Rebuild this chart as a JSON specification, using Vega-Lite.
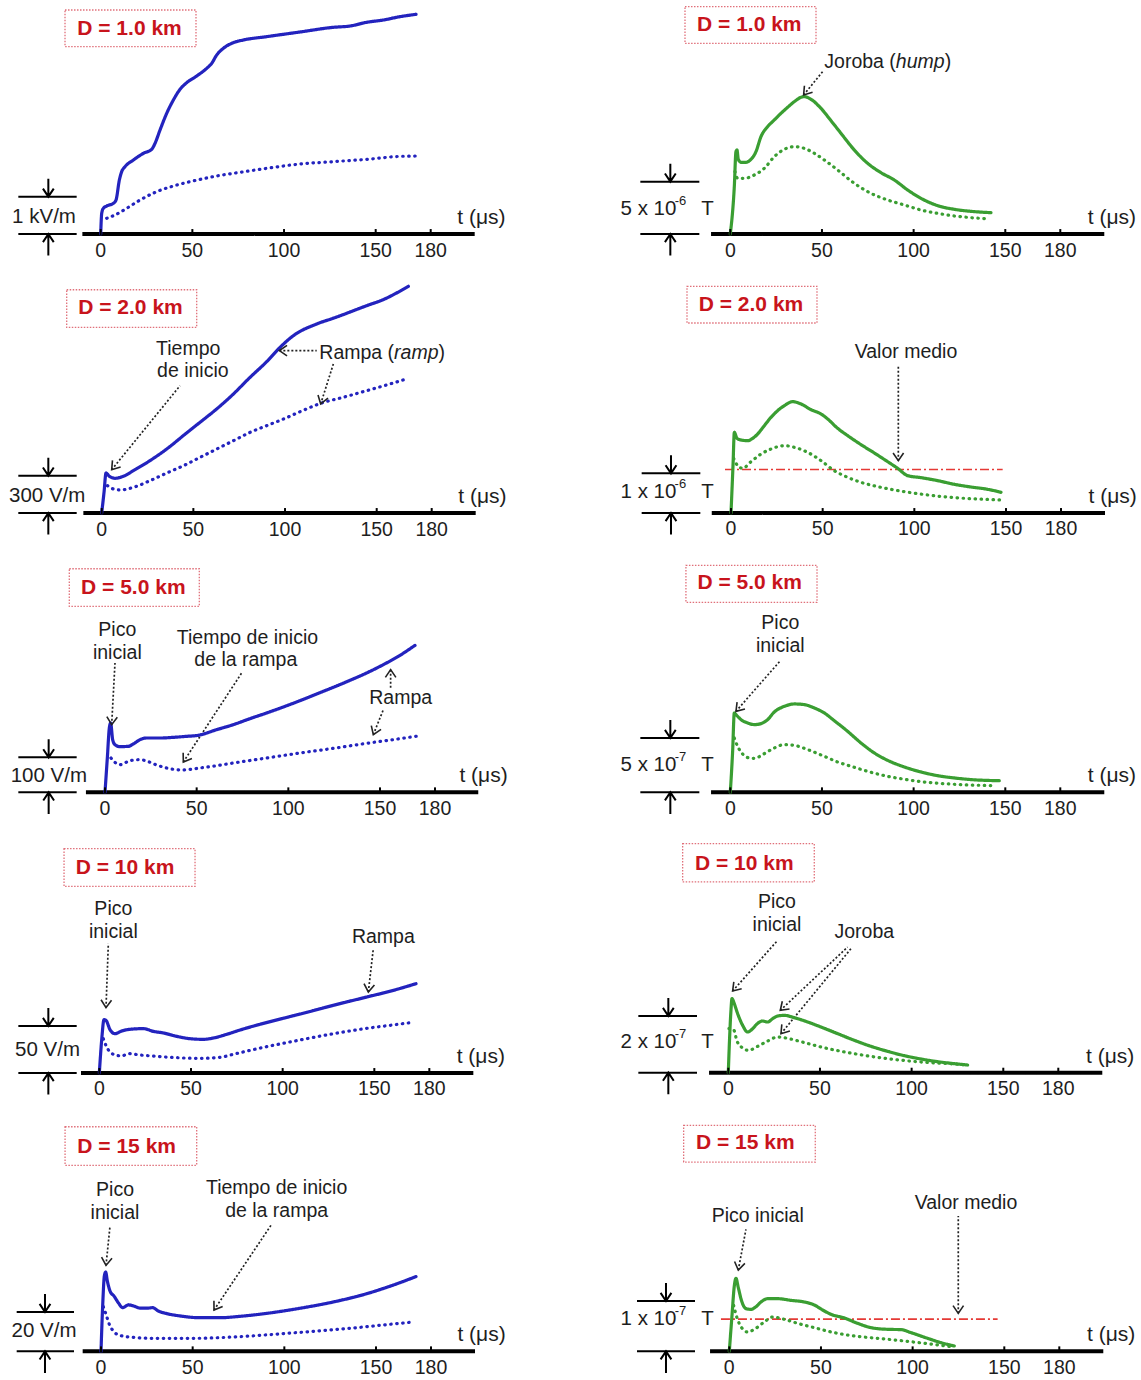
{"$schema":"https://vega.github.io/schema/vega-lite/v6.json","padding":0,"background":"white","spacing":17,
"config":{"view":{"stroke":null},"text":{"font":"Liberation Sans","fontSize":19.5,"color":"#1e1e1e","baseline":"middle","align":"center"}},
"data":{"values":[
{"p":"L1","k":"axis","t":-10,"t2":204,"v":0,"v2":0},
{"p":"L1","k":"bar","t":-44.93,"t2":-13.11,"v":0,"v2":0},
{"p":"L1","k":"bar","t":-44.93,"t2":-13.11,"v":1000,"v2":1000},
{"p":"L1","k":"down","t":-28.56,"v":1000},
{"p":"L1","k":"up","t":-28.56,"v":0},
{"p":"L1","k":"tick","t":0,"v":0,"tx":"0"},{"p":"L1","k":"tick","t":50,"v":0,"tx":"50"},{"p":"L1","k":"tick","t":100,"v":0,"tx":"100"},{"p":"L1","k":"tick","t":150,"v":0,"tx":"150"},{"p":"L1","k":"tick","t":180,"v":0,"tx":"180"},
{"p":"L1","k":"tunit","t":194.5,"v":0,"tx":"t (μs)"},
{"p":"L1","k":"lab","t":-30.93,"v":463.5,"tx":"1 kV/m"},
{"p":"L1","k":"box","t":-19.47,"t2":51.98,"v":5018,"v2":6001},
{"p":"L1","k":"title","t":15.71,"v":5492,"tx":"D = 1.0 km"},
{"p":"L1","k":"curve","s":"solid","t":0,"v":0},{"p":"L1","k":"curve","s":"solid","t":0.55,"v":554},{"p":"L1","k":"curve","s":"solid","t":1.45,"v":688},{"p":"L1","k":"curve","s":"solid","t":3.27,"v":750},{"p":"L1","k":"curve","s":"solid","t":6.91,"v":822},{"p":"L1","k":"curve","s":"solid","t":8.36,"v":911},{"p":"L1","k":"curve","s":"solid","t":10.18,"v":1447},{"p":"L1","k":"curve","s":"solid","t":11.45,"v":1670},{"p":"L1","k":"curve","s":"solid","t":13.27,"v":1804},{"p":"L1","k":"curve","s":"solid","t":17.82,"v":1982},{"p":"L1","k":"curve","s":"solid","t":23.27,"v":2161},{"p":"L1","k":"curve","s":"solid","t":27.82,"v":2268},{"p":"L1","k":"curve","s":"solid","t":29.64,"v":2429},{"p":"L1","k":"curve","s":"solid","t":32.36,"v":2786},{"p":"L1","k":"curve","s":"solid","t":36,"v":3233},{"p":"L1","k":"curve","s":"solid","t":39.64,"v":3590},{"p":"L1","k":"curve","s":"solid","t":43.27,"v":3876},{"p":"L1","k":"curve","s":"solid","t":46.91,"v":4054},{"p":"L1","k":"curve","s":"solid","t":52.36,"v":4233},{"p":"L1","k":"curve","s":"solid","t":57.82,"v":4438},{"p":"L1","k":"curve","s":"solid","t":60.55,"v":4572},{"p":"L1","k":"curve","s":"solid","t":63.27,"v":4795},{"p":"L1","k":"curve","s":"solid","t":66.91,"v":4974},{"p":"L1","k":"curve","s":"solid","t":72.36,"v":5126},{"p":"L1","k":"curve","s":"solid","t":77.82,"v":5197},{"p":"L1","k":"curve","s":"solid","t":90.55,"v":5287},{"p":"L1","k":"curve","s":"solid","t":108.73,"v":5412},{"p":"L1","k":"curve","s":"solid","t":126.91,"v":5537},{"p":"L1","k":"curve","s":"solid","t":136,"v":5572},{"p":"L1","k":"curve","s":"solid","t":145.09,"v":5671},{"p":"L1","k":"curve","s":"solid","t":154.18,"v":5733},{"p":"L1","k":"curve","s":"solid","t":163.27,"v":5822},{"p":"L1","k":"curve","s":"solid","t":172,"v":5885},
{"p":"L1","k":"curve","s":"dot","t":3.27,"v":420},{"p":"L1","k":"curve","s":"dot","t":7.82,"v":509},{"p":"L1","k":"curve","s":"dot","t":14.18,"v":688},{"p":"L1","k":"curve","s":"dot","t":21.45,"v":911},{"p":"L1","k":"curve","s":"dot","t":30.55,"v":1134},{"p":"L1","k":"curve","s":"dot","t":39.64,"v":1286},{"p":"L1","k":"curve","s":"dot","t":48.73,"v":1402},{"p":"L1","k":"curve","s":"dot","t":63.27,"v":1554},{"p":"L1","k":"curve","s":"dot","t":76,"v":1652},{"p":"L1","k":"curve","s":"dot","t":90.55,"v":1759},{"p":"L1","k":"curve","s":"dot","t":108.73,"v":1875},{"p":"L1","k":"curve","s":"dot","t":126.91,"v":1938},{"p":"L1","k":"curve","s":"dot","t":145.09,"v":2000},{"p":"L1","k":"curve","s":"dot","t":163.27,"v":2080},{"p":"L1","k":"curve","s":"dot","t":173.27,"v":2090},

{"p":"R1","k":"axis","t":-10.5,"t2":204,"v":0,"v2":0},
{"p":"R1","k":"bar","t":-49.07,"t2":-16.89,"v":0,"v2":0},
{"p":"R1","k":"bar","t":-49.07,"t2":-16.89,"v":5000,"v2":5000},
{"p":"R1","k":"down","t":-32.71,"v":5000},
{"p":"R1","k":"up","t":-32.71,"v":0},
{"p":"R1","k":"tick","t":0,"v":0,"tx":"0"},{"p":"R1","k":"tick","t":50,"v":0,"tx":"50"},{"p":"R1","k":"tick","t":100,"v":0,"tx":"100"},{"p":"R1","k":"tick","t":150,"v":0,"tx":"150"},{"p":"R1","k":"tick","t":180,"v":0,"tx":"180"},
{"p":"R1","k":"tunit","t":195,"v":0,"tx":"t (μs)"},
{"p":"R1","k":"lab","t":-44.62,"v":2388.5,"tx":"5 x 10"},{"p":"R1","k":"sup","t":-27.2,"v":3152.8,"tx":"-6"},{"p":"R1","k":"lab","t":-12.44,"v":2388.5,"tx":"T"},
{"p":"R1","k":"box","t":-24.71,"t2":46.75,"v":18219,"v2":21716},
{"p":"R1","k":"title","t":10.36,"v":19968,"tx":"D = 1.0 km"},
{"p":"R1","k":"txt","t":70.8,"v":16463,"tx":"Joroba ("},{"p":"R1","k":"ital","t":103.58,"v":16463,"tx":"hump"},{"p":"R1","k":"txt","t":118.69,"v":16463,"tx":")"},
{"p":"R1","k":"arrow","t":40,"v":13281,"t2":50.36,"v2":15511,"ang":39.2},
{"p":"R1","k":"curve","s":"solid","t":0,"v":0},{"p":"R1","k":"curve","s":"solid","t":2.18,"v":4523},{"p":"R1","k":"curve","s":"solid","t":3.09,"v":7867},{"p":"R1","k":"curve","s":"solid","t":3.64,"v":8026},{"p":"R1","k":"curve","s":"solid","t":4.36,"v":7134},{"p":"R1","k":"curve","s":"solid","t":5.82,"v":6848},{"p":"R1","k":"curve","s":"solid","t":8.55,"v":6848},{"p":"R1","k":"curve","s":"solid","t":11.27,"v":7134},{"p":"R1","k":"curve","s":"solid","t":14,"v":7867},{"p":"R1","k":"curve","s":"solid","t":16.73,"v":9300},{"p":"R1","k":"curve","s":"solid","t":20.36,"v":10256},{"p":"R1","k":"curve","s":"solid","t":24,"v":10893},{"p":"R1","k":"curve","s":"solid","t":27.64,"v":11530},{"p":"R1","k":"curve","s":"solid","t":31.27,"v":12103},{"p":"R1","k":"curve","s":"solid","t":34.91,"v":12644},{"p":"R1","k":"curve","s":"solid","t":38.55,"v":13059},{"p":"R1","k":"curve","s":"solid","t":40.36,"v":13122},{"p":"R1","k":"curve","s":"solid","t":44,"v":12867},{"p":"R1","k":"curve","s":"solid","t":49.45,"v":12007},{"p":"R1","k":"curve","s":"solid","t":54.91,"v":10829},{"p":"R1","k":"curve","s":"solid","t":60.36,"v":9619},{"p":"R1","k":"curve","s":"solid","t":67.64,"v":8026},{"p":"R1","k":"curve","s":"solid","t":74.91,"v":6752},{"p":"R1","k":"curve","s":"solid","t":82.18,"v":5860},{"p":"R1","k":"curve","s":"solid","t":89.45,"v":5160},{"p":"R1","k":"curve","s":"solid","t":96.73,"v":4204},{"p":"R1","k":"curve","s":"solid","t":104,"v":3408},{"p":"R1","k":"curve","s":"solid","t":113.09,"v":2707},{"p":"R1","k":"curve","s":"solid","t":122.18,"v":2357},{"p":"R1","k":"curve","s":"solid","t":131.27,"v":2166},{"p":"R1","k":"curve","s":"solid","t":142.18,"v":2038},
{"p":"R1","k":"curve","s":"dot","t":2.55,"v":5956},{"p":"R1","k":"curve","s":"dot","t":4,"v":5319},{"p":"R1","k":"curve","s":"dot","t":7.64,"v":5319},{"p":"R1","k":"curve","s":"dot","t":13.09,"v":5637},{"p":"R1","k":"curve","s":"dot","t":18.55,"v":6274},{"p":"R1","k":"curve","s":"dot","t":24,"v":7389},{"p":"R1","k":"curve","s":"dot","t":29.45,"v":8090},{"p":"R1","k":"curve","s":"dot","t":34.91,"v":8345},{"p":"R1","k":"curve","s":"dot","t":40.36,"v":8185},{"p":"R1","k":"curve","s":"dot","t":45.82,"v":7708},{"p":"R1","k":"curve","s":"dot","t":51.27,"v":7071},{"p":"R1","k":"curve","s":"dot","t":58.55,"v":6116},{"p":"R1","k":"curve","s":"dot","t":67.64,"v":4842},{"p":"R1","k":"curve","s":"dot","t":76.73,"v":3886},{"p":"R1","k":"curve","s":"dot","t":85.82,"v":3249},{"p":"R1","k":"curve","s":"dot","t":94.91,"v":2771},{"p":"R1","k":"curve","s":"dot","t":104,"v":2293},{"p":"R1","k":"curve","s":"dot","t":113.09,"v":1975},{"p":"R1","k":"curve","s":"dot","t":122.18,"v":1720},{"p":"R1","k":"curve","s":"dot","t":131.27,"v":1561},{"p":"R1","k":"curve","s":"dot","t":141.27,"v":1433},

{"p":"L2","k":"axis","t":-10,"t2":204,"v":0,"v2":0},
{"p":"L2","k":"bar","t":-45.48,"t2":-13.64,"v":0,"v2":0},
{"p":"L2","k":"bar","t":-45.48,"t2":-13.64,"v":300,"v2":300},
{"p":"L2","k":"down","t":-29.11,"v":300},
{"p":"L2","k":"up","t":-29.11,"v":0},
{"p":"L2","k":"tick","t":0,"v":0,"tx":"0"},{"p":"L2","k":"tick","t":50,"v":0,"tx":"50"},{"p":"L2","k":"tick","t":100,"v":0,"tx":"100"},{"p":"L2","k":"tick","t":150,"v":0,"tx":"150"},{"p":"L2","k":"tick","t":180,"v":0,"tx":"180"},
{"p":"L2","k":"tunit","t":194.5,"v":0,"tx":"t (μs)"},
{"p":"L2","k":"lab","t":-29.74,"v":139.3,"tx":"300 V/m"},
{"p":"L2","k":"box","t":-19.09,"t2":51.82,"v":1492,"v2":1794},
{"p":"L2","k":"title","t":15.71,"v":1645,"tx":"D = 2.0 km"},
{"p":"L2","k":"txt","t":47.2,"v":1318,"tx":"Tiempo"},{"p":"L2","k":"txt","t":49.7,"v":1144,"tx":"de inicio"},
{"p":"L2","k":"txt","t":139.1,"v":1286,"tx":"Rampa ("},{"p":"L2","k":"ital","t":171.6,"v":1286,"tx":"ramp"},{"p":"L2","k":"txt","t":185.5,"v":1286,"tx":")"},
{"p":"L2","k":"arrow","t":5.45,"v":348,"t2":42.73,"v2":1023,"ang":39.1},
{"p":"L2","k":"arrow","t":96.9,"v":1305,"t2":117.27,"v2":1305,"ang":90},
{"p":"L2","k":"arrow","t":119.45,"v":876,"t2":126.36,"v2":1198,"ang":17.6},
{"p":"L2","k":"curve","s":"solid","t":0,"v":0},{"p":"L2","k":"curve","s":"solid","t":1.27,"v":166},{"p":"L2","k":"curve","s":"solid","t":2.36,"v":321},{"p":"L2","k":"curve","s":"solid","t":4.18,"v":295},{"p":"L2","k":"curve","s":"solid","t":7.27,"v":279},{"p":"L2","k":"curve","s":"solid","t":11.82,"v":295},{"p":"L2","k":"curve","s":"solid","t":17.27,"v":340},{"p":"L2","k":"curve","s":"solid","t":26.36,"v":421},{"p":"L2","k":"curve","s":"solid","t":35.45,"v":514},{"p":"L2","k":"curve","s":"solid","t":44.55,"v":622},{"p":"L2","k":"curve","s":"solid","t":53.64,"v":729},{"p":"L2","k":"curve","s":"solid","t":62.73,"v":836},{"p":"L2","k":"curve","s":"solid","t":71.82,"v":956},{"p":"L2","k":"curve","s":"solid","t":80.91,"v":1090},{"p":"L2","k":"curve","s":"solid","t":90,"v":1216},{"p":"L2","k":"curve","s":"solid","t":97.27,"v":1331},{"p":"L2","k":"curve","s":"solid","t":104.55,"v":1425},{"p":"L2","k":"curve","s":"solid","t":117.27,"v":1519},{"p":"L2","k":"curve","s":"solid","t":126.36,"v":1565},{"p":"L2","k":"curve","s":"solid","t":144.55,"v":1666},{"p":"L2","k":"curve","s":"solid","t":153.64,"v":1715},{"p":"L2","k":"curve","s":"solid","t":167.27,"v":1822},
{"p":"L2","k":"curve","s":"dot","t":3.09,"v":220},{"p":"L2","k":"curve","s":"dot","t":6.36,"v":193},{"p":"L2","k":"curve","s":"dot","t":10,"v":185},{"p":"L2","k":"curve","s":"dot","t":17.27,"v":206},{"p":"L2","k":"curve","s":"dot","t":26.36,"v":260},{"p":"L2","k":"curve","s":"dot","t":35.45,"v":321},{"p":"L2","k":"curve","s":"dot","t":44.55,"v":380},{"p":"L2","k":"curve","s":"dot","t":53.64,"v":447},{"p":"L2","k":"curve","s":"dot","t":62.73,"v":514},{"p":"L2","k":"curve","s":"dot","t":71.82,"v":581},{"p":"L2","k":"curve","s":"dot","t":80.91,"v":648},{"p":"L2","k":"curve","s":"dot","t":90,"v":702},{"p":"L2","k":"curve","s":"dot","t":99.09,"v":755},{"p":"L2","k":"curve","s":"dot","t":108.18,"v":814},{"p":"L2","k":"curve","s":"dot","t":120,"v":884},{"p":"L2","k":"curve","s":"dot","t":131.82,"v":930},{"p":"L2","k":"curve","s":"dot","t":144.55,"v":983},{"p":"L2","k":"curve","s":"dot","t":155.45,"v":1029},{"p":"L2","k":"curve","s":"dot","t":167.27,"v":1082},

{"p":"R2","k":"axis","t":-10.5,"t2":204,"v":0,"v2":0},
{"p":"R2","k":"bar","t":-48.73,"t2":-16.73,"v":0,"v2":0},
{"p":"R2","k":"bar","t":-48.73,"t2":-16.73,"v":1000,"v2":1000},
{"p":"R2","k":"down","t":-32.73,"v":1000},
{"p":"R2","k":"up","t":-32.73,"v":0},
{"p":"R2","k":"tick","t":0,"v":0,"tx":"0"},{"p":"R2","k":"tick","t":50,"v":0,"tx":"50"},{"p":"R2","k":"tick","t":100,"v":0,"tx":"100"},{"p":"R2","k":"tick","t":150,"v":0,"tx":"150"},{"p":"R2","k":"tick","t":180,"v":0,"tx":"180"},
{"p":"R2","k":"tunit","t":195,"v":0,"tx":"t (μs)"},
{"p":"R2","k":"lab","t":-45,"v":521.8,"tx":"1 x 10"},{"p":"R2","k":"sup","t":-27.6,"v":723.5,"tx":"-6"},{"p":"R2","k":"lab","t":-12.82,"v":521.8,"tx":"T"},
{"p":"R2","k":"box","t":-24,"t2":46.9,"v":4790,"v2":5715},
{"p":"R2","k":"title","t":10.9,"v":5244,"tx":"D = 2.0 km"},
{"p":"R2","k":"txt","t":95.45,"v":4050,"tx":"Valor medio"},
{"p":"R2","k":"arrow","t":91.27,"v":1319,"t2":91.27,"v2":3697,"ang":0},
{"p":"R2","k":"mean","t":-3.27,"v":1096,"t2":148.18,"v2":1096},
{"p":"R2","k":"curve","s":"solid","t":0,"v":0},{"p":"R2","k":"curve","s":"solid","t":1.09,"v":1193},{"p":"R2","k":"curve","s":"solid","t":1.82,"v":2034},{"p":"R2","k":"curve","s":"solid","t":3.27,"v":1882},{"p":"R2","k":"curve","s":"solid","t":5.45,"v":1840},{"p":"R2","k":"curve","s":"solid","t":9.09,"v":1823},{"p":"R2","k":"curve","s":"solid","t":11.82,"v":1882},{"p":"R2","k":"curve","s":"solid","t":14.55,"v":1992},{"p":"R2","k":"curve","s":"solid","t":18.18,"v":2202},{"p":"R2","k":"curve","s":"solid","t":21.82,"v":2412},{"p":"R2","k":"curve","s":"solid","t":25.45,"v":2580},{"p":"R2","k":"curve","s":"solid","t":29.09,"v":2706},{"p":"R2","k":"curve","s":"solid","t":33.64,"v":2807},{"p":"R2","k":"curve","s":"solid","t":38.18,"v":2748},{"p":"R2","k":"curve","s":"solid","t":43.64,"v":2605},{"p":"R2","k":"curve","s":"solid","t":49.09,"v":2496},{"p":"R2","k":"curve","s":"solid","t":52.73,"v":2370},{"p":"R2","k":"curve","s":"solid","t":58.18,"v":2134},{"p":"R2","k":"curve","s":"solid","t":63.64,"v":1950},{"p":"R2","k":"curve","s":"solid","t":70.91,"v":1723},{"p":"R2","k":"curve","s":"solid","t":78.18,"v":1513},{"p":"R2","k":"curve","s":"solid","t":85.45,"v":1294},{"p":"R2","k":"curve","s":"solid","t":90.91,"v":1126},{"p":"R2","k":"curve","s":"solid","t":96.36,"v":941},{"p":"R2","k":"curve","s":"solid","t":103.64,"v":891},{"p":"R2","k":"curve","s":"solid","t":112.73,"v":815},{"p":"R2","k":"curve","s":"solid","t":121.82,"v":723},{"p":"R2","k":"curve","s":"solid","t":130.91,"v":655},{"p":"R2","k":"curve","s":"solid","t":140,"v":597},{"p":"R2","k":"curve","s":"solid","t":147.27,"v":521},
{"p":"R2","k":"curve","s":"dot","t":1.45,"v":1378},{"p":"R2","k":"curve","s":"dot","t":3.64,"v":1193},{"p":"R2","k":"curve","s":"dot","t":6.36,"v":1126},{"p":"R2","k":"curve","s":"dot","t":10.91,"v":1294},{"p":"R2","k":"curve","s":"dot","t":16.36,"v":1487},{"p":"R2","k":"curve","s":"dot","t":21.82,"v":1613},{"p":"R2","k":"curve","s":"dot","t":29.09,"v":1697},{"p":"R2","k":"curve","s":"dot","t":34.55,"v":1655},{"p":"R2","k":"curve","s":"dot","t":41.82,"v":1529},{"p":"R2","k":"curve","s":"dot","t":49.09,"v":1319},{"p":"R2","k":"curve","s":"dot","t":56.36,"v":1067},{"p":"R2","k":"curve","s":"dot","t":63.64,"v":899},{"p":"R2","k":"curve","s":"dot","t":70.91,"v":773},{"p":"R2","k":"curve","s":"dot","t":81.82,"v":647},{"p":"R2","k":"curve","s":"dot","t":94.55,"v":538},{"p":"R2","k":"curve","s":"dot","t":107.27,"v":454},{"p":"R2","k":"curve","s":"dot","t":121.82,"v":387},{"p":"R2","k":"curve","s":"dot","t":134.55,"v":353},{"p":"R2","k":"curve","s":"dot","t":148.18,"v":328},

{"p":"L3","k":"axis","t":-10.4,"t2":203.6,"v":0,"v2":0},
{"p":"L3","k":"bar","t":-47.27,"t2":-15.45,"v":0,"v2":0},
{"p":"L3","k":"bar","t":-47.27,"t2":-15.45,"v":100,"v2":100},
{"p":"L3","k":"down","t":-30.73,"v":100},
{"p":"L3","k":"up","t":-30.73,"v":0},
{"p":"L3","k":"tick","t":0,"v":0,"tx":"0"},{"p":"L3","k":"tick","t":50,"v":0,"tx":"50"},{"p":"L3","k":"tick","t":100,"v":0,"tx":"100"},{"p":"L3","k":"tick","t":150,"v":0,"tx":"150"},{"p":"L3","k":"tick","t":180,"v":0,"tx":"180"},
{"p":"L3","k":"tunit","t":193.3,"v":0,"tx":"t (μs)"},
{"p":"L3","k":"lab","t":-30.65,"v":45.7,"tx":"100 V/m"},
{"p":"L3","k":"box","t":-19.47,"t2":51.44,"v":531.4,"v2":638.8},
{"p":"L3","k":"title","t":15.45,"v":583.7,"tx":"D = 5.0 km"},
{"p":"L3","k":"txt","t":6.73,"v":464.8,"tx":"Pico"},{"p":"L3","k":"txt","t":6.73,"v":398.1,"tx":"inicial"},
{"p":"L3","k":"txt","t":77.7,"v":441,"tx":"Tiempo de inicio"},{"p":"L3","k":"txt","t":76.8,"v":379.1,"tx":"de la rampa"},
{"p":"L3","k":"txt","t":161.3,"v":269.5,"tx":"Rampa"},
{"p":"L3","k":"arrow","t":3.64,"v":193.3,"t2":5.45,"v2":369.5,"ang":3.1},
{"p":"L3","k":"arrow","t":42.73,"v":86.7,"t2":74.55,"v2":341,"ang":33.2},
{"p":"L3","k":"arrow","t":155.8,"v":350.5,"t2":155.8,"v2":298.1,"ang":180},
{"p":"L3","k":"arrow","t":146.36,"v":164.8,"t2":151.82,"v2":236.2,"ang":21.8},
{"p":"L3","k":"curve","s":"solid","t":0,"v":0},{"p":"L3","k":"curve","s":"solid","t":1.27,"v":98.1},{"p":"L3","k":"curve","s":"solid","t":2.36,"v":183.8},{"p":"L3","k":"curve","s":"solid","t":3.09,"v":198.1},{"p":"L3","k":"curve","s":"solid","t":4.18,"v":150.5},{"p":"L3","k":"curve","s":"solid","t":5.45,"v":136.2},{"p":"L3","k":"curve","s":"solid","t":8.18,"v":130.5},{"p":"L3","k":"curve","s":"solid","t":12.73,"v":131.4},{"p":"L3","k":"curve","s":"solid","t":15.45,"v":138.1},{"p":"L3","k":"curve","s":"solid","t":19.09,"v":150.5},{"p":"L3","k":"curve","s":"solid","t":22.73,"v":155.2},{"p":"L3","k":"curve","s":"solid","t":30,"v":155.2},{"p":"L3","k":"curve","s":"solid","t":37.27,"v":157.1},{"p":"L3","k":"curve","s":"solid","t":44.55,"v":160},{"p":"L3","k":"curve","s":"solid","t":50.91,"v":162.9},{"p":"L3","k":"curve","s":"solid","t":60.91,"v":179},{"p":"L3","k":"curve","s":"solid","t":70,"v":193.3},{"p":"L3","k":"curve","s":"solid","t":79.09,"v":210.5},{"p":"L3","k":"curve","s":"solid","t":88.18,"v":226.7},{"p":"L3","k":"curve","s":"solid","t":97.27,"v":243.8},{"p":"L3","k":"curve","s":"solid","t":106.36,"v":261.9},{"p":"L3","k":"curve","s":"solid","t":115.45,"v":281},{"p":"L3","k":"curve","s":"solid","t":124.55,"v":300},{"p":"L3","k":"curve","s":"solid","t":133.64,"v":320},{"p":"L3","k":"curve","s":"solid","t":142.73,"v":341},{"p":"L3","k":"curve","s":"solid","t":151.82,"v":364.8},{"p":"L3","k":"curve","s":"solid","t":160.91,"v":391.4},{"p":"L3","k":"curve","s":"solid","t":169.09,"v":420},
{"p":"L3","k":"curve","s":"dot","t":3.27,"v":98.1},{"p":"L3","k":"curve","s":"dot","t":5.45,"v":85.7},{"p":"L3","k":"curve","s":"dot","t":8.18,"v":79},{"p":"L3","k":"curve","s":"dot","t":13.64,"v":90.5},{"p":"L3","k":"curve","s":"dot","t":19.09,"v":93.3},{"p":"L3","k":"curve","s":"dot","t":23.64,"v":87.6},{"p":"L3","k":"curve","s":"dot","t":28.18,"v":78.1},{"p":"L3","k":"curve","s":"dot","t":33.64,"v":69.5},{"p":"L3","k":"curve","s":"dot","t":41.82,"v":63.8},{"p":"L3","k":"curve","s":"dot","t":51.82,"v":69.5},{"p":"L3","k":"curve","s":"dot","t":60.91,"v":76.2},{"p":"L3","k":"curve","s":"dot","t":70,"v":83.8},{"p":"L3","k":"curve","s":"dot","t":88.18,"v":98.1},{"p":"L3","k":"curve","s":"dot","t":106.36,"v":112.4},{"p":"L3","k":"curve","s":"dot","t":124.55,"v":125.7},{"p":"L3","k":"curve","s":"dot","t":142.73,"v":140},{"p":"L3","k":"curve","s":"dot","t":160.91,"v":153.3},{"p":"L3","k":"curve","s":"dot","t":171.82,"v":161.9},

{"p":"R3","k":"axis","t":-10.5,"t2":204,"v":0,"v2":0},
{"p":"R3","k":"bar","t":-49.07,"t2":-16.89,"v":0,"v2":0},
{"p":"R3","k":"bar","t":-49.07,"t2":-16.89,"v":500,"v2":500},
{"p":"R3","k":"down","t":-32.71,"v":500},
{"p":"R3","k":"up","t":-32.71,"v":0},
{"p":"R3","k":"tick","t":0,"v":0,"tx":"0"},{"p":"R3","k":"tick","t":50,"v":0,"tx":"50"},{"p":"R3","k":"tick","t":100,"v":0,"tx":"100"},{"p":"R3","k":"tick","t":150,"v":0,"tx":"150"},{"p":"R3","k":"tick","t":180,"v":0,"tx":"180"},
{"p":"R3","k":"tunit","t":195,"v":0,"tx":"t (μs)"},
{"p":"R3","k":"lab","t":-44.62,"v":254.9,"tx":"5 x 10"},{"p":"R3","k":"sup","t":-27.2,"v":328.5,"tx":"-7"},{"p":"R3","k":"lab","t":-12.44,"v":254.9,"tx":"T"},
{"p":"R3","k":"box","t":-24.2,"t2":47.3,"v":1748,"v2":2089},
{"p":"R3","k":"title","t":10.6,"v":1926,"tx":"D = 5.0 km"},
{"p":"R3","k":"txt","t":27.27,"v":1558,"tx":"Pico"},{"p":"R3","k":"txt","t":27.27,"v":1343,"tx":"inicial"},
{"p":"R3","k":"arrow","t":3.09,"v":745,"t2":27.27,"v2":1211,"ang":41.2},
{"p":"R3","k":"curve","s":"solid","t":0,"v":0},{"p":"R3","k":"curve","s":"solid","t":1.27,"v":377},{"p":"R3","k":"curve","s":"solid","t":2.18,"v":730},{"p":"R3","k":"curve","s":"solid","t":3.09,"v":715},{"p":"R3","k":"curve","s":"solid","t":5.82,"v":669},{"p":"R3","k":"curve","s":"solid","t":9.45,"v":638},{"p":"R3","k":"curve","s":"solid","t":13.09,"v":623},{"p":"R3","k":"curve","s":"solid","t":16.73,"v":632},{"p":"R3","k":"curve","s":"solid","t":20.36,"v":669},{"p":"R3","k":"curve","s":"solid","t":24,"v":739},{"p":"R3","k":"curve","s":"solid","t":29.45,"v":791},{"p":"R3","k":"curve","s":"solid","t":34.91,"v":813},{"p":"R3","k":"curve","s":"solid","t":40.36,"v":807},{"p":"R3","k":"curve","s":"solid","t":45.82,"v":776},{"p":"R3","k":"curve","s":"solid","t":51.27,"v":730},{"p":"R3","k":"curve","s":"solid","t":56.73,"v":659},{"p":"R3","k":"curve","s":"solid","t":64,"v":561},{"p":"R3","k":"curve","s":"solid","t":71.27,"v":454},{"p":"R3","k":"curve","s":"solid","t":78.55,"v":362},{"p":"R3","k":"curve","s":"solid","t":85.82,"v":294},{"p":"R3","k":"curve","s":"solid","t":94.91,"v":233},{"p":"R3","k":"curve","s":"solid","t":104,"v":187},{"p":"R3","k":"curve","s":"solid","t":113.09,"v":153},{"p":"R3","k":"curve","s":"solid","t":122.18,"v":132},{"p":"R3","k":"curve","s":"solid","t":131.27,"v":117},{"p":"R3","k":"curve","s":"solid","t":146.73,"v":107},
{"p":"R3","k":"curve","s":"dot","t":2.18,"v":500},{"p":"R3","k":"curve","s":"dot","t":4,"v":423},{"p":"R3","k":"curve","s":"dot","t":6.73,"v":353},{"p":"R3","k":"curve","s":"dot","t":10.36,"v":316},{"p":"R3","k":"curve","s":"dot","t":13.09,"v":313},{"p":"R3","k":"curve","s":"dot","t":18.55,"v":356},{"p":"R3","k":"curve","s":"dot","t":24,"v":408},{"p":"R3","k":"curve","s":"dot","t":29.45,"v":439},{"p":"R3","k":"curve","s":"dot","t":34.91,"v":432},{"p":"R3","k":"curve","s":"dot","t":42.18,"v":393},{"p":"R3","k":"curve","s":"dot","t":51.27,"v":331},{"p":"R3","k":"curve","s":"dot","t":58.55,"v":279},{"p":"R3","k":"curve","s":"dot","t":67.64,"v":230},{"p":"R3","k":"curve","s":"dot","t":76.73,"v":184},{"p":"R3","k":"curve","s":"dot","t":85.82,"v":147},{"p":"R3","k":"curve","s":"dot","t":94.91,"v":120},{"p":"R3","k":"curve","s":"dot","t":104,"v":98},{"p":"R3","k":"curve","s":"dot","t":122.18,"v":74},{"p":"R3","k":"curve","s":"dot","t":144.91,"v":61},

{"p":"L4","k":"axis","t":-10,"t2":204,"v":0,"v2":0},
{"p":"L4","k":"bar","t":-44.17,"t2":-12.35,"v":0,"v2":0},
{"p":"L4","k":"bar","t":-44.17,"t2":-12.35,"v":50,"v2":50},
{"p":"L4","k":"down","t":-27.81,"v":50},
{"p":"L4","k":"up","t":-27.81,"v":0},
{"p":"L4","k":"tick","t":0,"v":0,"tx":"0"},{"p":"L4","k":"tick","t":50,"v":0,"tx":"50"},{"p":"L4","k":"tick","t":100,"v":0,"tx":"100"},{"p":"L4","k":"tick","t":150,"v":0,"tx":"150"},{"p":"L4","k":"tick","t":180,"v":0,"tx":"180"},
{"p":"L4","k":"tunit","t":194.9,"v":0,"tx":"t (μs)"},
{"p":"L4","k":"lab","t":-28.25,"v":24.1,"tx":"50 V/m"},
{"p":"L4","k":"box","t":-19.25,"t2":52.2,"v":198.6,"v2":238.6},
{"p":"L4","k":"title","t":14,"v":218.4,"tx":"D = 10 km"},
{"p":"L4","k":"txt","t":7.64,"v":174.8,"tx":"Pico"},{"p":"L4","k":"txt","t":7.64,"v":150,"tx":"inicial"},
{"p":"L4","k":"txt","t":154.9,"v":144.7,"tx":"Rampa"},
{"p":"L4","k":"arrow","t":3.64,"v":69.5,"t2":4.91,"v2":137.6,"ang":2.1},
{"p":"L4","k":"arrow","t":146.73,"v":86.2,"t2":149.45,"v2":132.3,"ang":6.6},
{"p":"L4","k":"curve","s":"solid","t":0,"v":0},{"p":"L4","k":"curve","s":"solid","t":1.27,"v":34.8},{"p":"L4","k":"curve","s":"solid","t":2.55,"v":56.7},{"p":"L4","k":"curve","s":"solid","t":3.64,"v":56},{"p":"L4","k":"curve","s":"solid","t":5.82,"v":46.1},{"p":"L4","k":"curve","s":"solid","t":8.55,"v":41.8},{"p":"L4","k":"curve","s":"solid","t":12.18,"v":44.7},{"p":"L4","k":"curve","s":"solid","t":18.55,"v":46.8},{"p":"L4","k":"curve","s":"solid","t":24,"v":47.2},{"p":"L4","k":"curve","s":"solid","t":29.45,"v":44.3},{"p":"L4","k":"curve","s":"solid","t":34.91,"v":42.6},{"p":"L4","k":"curve","s":"solid","t":42.18,"v":39},{"p":"L4","k":"curve","s":"solid","t":49.45,"v":36.5},{"p":"L4","k":"curve","s":"solid","t":56.73,"v":35.8},{"p":"L4","k":"curve","s":"solid","t":62.18,"v":37.2},{"p":"L4","k":"curve","s":"solid","t":69.45,"v":41.1},{"p":"L4","k":"curve","s":"solid","t":76.73,"v":45.7},{"p":"L4","k":"curve","s":"solid","t":87.64,"v":51.8},{"p":"L4","k":"curve","s":"solid","t":100.36,"v":58.2},{"p":"L4","k":"curve","s":"solid","t":113.09,"v":64.5},{"p":"L4","k":"curve","s":"solid","t":127.64,"v":72},{"p":"L4","k":"curve","s":"solid","t":145.82,"v":80.8},{"p":"L4","k":"curve","s":"solid","t":160.36,"v":87.9},{"p":"L4","k":"curve","s":"solid","t":172.73,"v":95},
{"p":"L4","k":"curve","s":"dot","t":2.18,"v":36.5},{"p":"L4","k":"curve","s":"dot","t":4,"v":27.7},{"p":"L4","k":"curve","s":"dot","t":7.64,"v":19.9},{"p":"L4","k":"curve","s":"dot","t":12.18,"v":18.1},{"p":"L4","k":"curve","s":"dot","t":15.82,"v":20.6},{"p":"L4","k":"curve","s":"dot","t":22.18,"v":19.1},{"p":"L4","k":"curve","s":"dot","t":31.27,"v":17.7},{"p":"L4","k":"curve","s":"dot","t":42.18,"v":16.3},{"p":"L4","k":"curve","s":"dot","t":54.91,"v":15.6},{"p":"L4","k":"curve","s":"dot","t":65.82,"v":16.7},{"p":"L4","k":"curve","s":"dot","t":73.09,"v":19.9},{"p":"L4","k":"curve","s":"dot","t":82.18,"v":24.1},{"p":"L4","k":"curve","s":"dot","t":91.27,"v":28},{"p":"L4","k":"curve","s":"dot","t":109.45,"v":35.1},{"p":"L4","k":"curve","s":"dot","t":127.64,"v":41.8},{"p":"L4","k":"curve","s":"dot","t":145.82,"v":47.5},{"p":"L4","k":"curve","s":"dot","t":158.55,"v":50.7},{"p":"L4","k":"curve","s":"dot","t":171.27,"v":53.9},

{"p":"R4","k":"axis","t":-10.5,"t2":204,"v":0,"v2":0},
{"p":"R4","k":"bar","t":-49.07,"t2":-17.07,"v":0,"v2":0},
{"p":"R4","k":"bar","t":-49.07,"t2":-17.07,"v":200,"v2":200},
{"p":"R4","k":"down","t":-32.71,"v":200},
{"p":"R4","k":"up","t":-32.71,"v":0},
{"p":"R4","k":"tick","t":0,"v":0,"tx":"0"},{"p":"R4","k":"tick","t":50,"v":0,"tx":"50"},{"p":"R4","k":"tick","t":100,"v":0,"tx":"100"},{"p":"R4","k":"tick","t":150,"v":0,"tx":"150"},{"p":"R4","k":"tick","t":180,"v":0,"tx":"180"},
{"p":"R4","k":"tunit","t":195.1,"v":0,"tx":"t (μs)"},
{"p":"R4","k":"lab","t":-43.53,"v":108.3,"tx":"2 x 10"},{"p":"R4","k":"sup","t":-26.1,"v":136.6,"tx":"-7"},{"p":"R4","k":"lab","t":-11.35,"v":108.3,"tx":"T"},
{"p":"R4","k":"box","t":-24.9,"t2":46.9,"v":673,"v2":808.1},
{"p":"R4","k":"title","t":8.7,"v":737.6,"tx":"D = 10 km"},
{"p":"R4","k":"txt","t":26.56,"v":602.1,"tx":"Pico"},{"p":"R4","k":"txt","t":26.56,"v":519.8,"tx":"inicial"},{"p":"R4","k":"txt","t":74.2,"v":496.3,"tx":"Joroba"},
{"p":"R4","k":"arrow","t":2.36,"v":288.1,"t2":26.91,"v2":466.9,"ang":41.6},
{"p":"R4","k":"arrow","t":28.36,"v":219.9,"t2":65.09,"v2":443.4,"ang":46.8},
{"p":"R4","k":"arrow","t":28.73,"v":137.6,"t2":66.91,"v2":437.5,"ang":39.5},
{"p":"R4","k":"curve","s":"solid","t":0,"v":0},{"p":"R4","k":"curve","s":"solid","t":0.73,"v":125.8},{"p":"R4","k":"curve","s":"solid","t":1.45,"v":219.9},{"p":"R4","k":"curve","s":"solid","t":2,"v":261.1},{"p":"R4","k":"curve","s":"solid","t":3.27,"v":243.4},{"p":"R4","k":"curve","s":"solid","t":5.09,"v":208.2},{"p":"R4","k":"curve","s":"solid","t":7.82,"v":167},{"p":"R4","k":"curve","s":"solid","t":10.55,"v":143.5},{"p":"R4","k":"curve","s":"solid","t":13.27,"v":155.2},{"p":"R4","k":"curve","s":"solid","t":15.82,"v":172.9},{"p":"R4","k":"curve","s":"solid","t":18.55,"v":182.3},{"p":"R4","k":"curve","s":"solid","t":21.45,"v":178.8},{"p":"R4","k":"curve","s":"solid","t":24.18,"v":190.5},{"p":"R4","k":"curve","s":"solid","t":26.91,"v":199.9},{"p":"R4","k":"curve","s":"solid","t":30.55,"v":202.3},{"p":"R4","k":"curve","s":"solid","t":36,"v":194},{"p":"R4","k":"curve","s":"solid","t":43.27,"v":178.8},{"p":"R4","k":"curve","s":"solid","t":50.55,"v":161.1},{"p":"R4","k":"curve","s":"solid","t":59.64,"v":137.6},{"p":"R4","k":"curve","s":"solid","t":68.73,"v":114.1},{"p":"R4","k":"curve","s":"solid","t":77.82,"v":92.9},{"p":"R4","k":"curve","s":"solid","t":86.91,"v":75.3},{"p":"R4","k":"curve","s":"solid","t":96,"v":60},{"p":"R4","k":"curve","s":"solid","t":105.09,"v":48.2},{"p":"R4","k":"curve","s":"solid","t":114.18,"v":38.8},{"p":"R4","k":"curve","s":"solid","t":123.27,"v":31.8},{"p":"R4","k":"curve","s":"solid","t":130.55,"v":27},
{"p":"R4","k":"curve","s":"dot","t":0.36,"v":155.2},{"p":"R4","k":"curve","s":"dot","t":2.91,"v":151.7},{"p":"R4","k":"curve","s":"dot","t":4.73,"v":111.7},{"p":"R4","k":"curve","s":"dot","t":7.82,"v":87},{"p":"R4","k":"curve","s":"dot","t":10.91,"v":78.8},{"p":"R4","k":"curve","s":"dot","t":16,"v":92.9},{"p":"R4","k":"curve","s":"dot","t":21.45,"v":111.7},{"p":"R4","k":"curve","s":"dot","t":26.91,"v":125.8},{"p":"R4","k":"curve","s":"dot","t":32.36,"v":121.1},{"p":"R4","k":"curve","s":"dot","t":39.64,"v":109.4},{"p":"R4","k":"curve","s":"dot","t":50.55,"v":90.6},{"p":"R4","k":"curve","s":"dot","t":68.73,"v":67},{"p":"R4","k":"curve","s":"dot","t":86.91,"v":49.4},{"p":"R4","k":"curve","s":"dot","t":105.09,"v":37.6},{"p":"R4","k":"curve","s":"dot","t":123.27,"v":30.6},{"p":"R4","k":"curve","s":"dot","t":130.55,"v":27},

{"p":"L5","k":"axis","t":-10,"t2":204,"v":0,"v2":0},
{"p":"L5","k":"bar","t":-45.99,"t2":-14.73,"v":0,"v2":0},
{"p":"L5","k":"bar","t":-45.99,"t2":-14.73,"v":20,"v2":20},
{"p":"L5","k":"down","t":-30.55,"v":20},
{"p":"L5","k":"up","t":-30.55,"v":0},
{"p":"L5","k":"tick","t":0,"v":0,"tx":"0"},{"p":"L5","k":"tick","t":50,"v":0,"tx":"50"},{"p":"L5","k":"tick","t":100,"v":0,"tx":"100"},{"p":"L5","k":"tick","t":150,"v":0,"tx":"150"},{"p":"L5","k":"tick","t":180,"v":0,"tx":"180"},
{"p":"L5","k":"tunit","t":194.4,"v":0,"tx":"t (μs)"},
{"p":"L5","k":"lab","t":-31.09,"v":10.3,"tx":"20 V/m"},
{"p":"L5","k":"box","t":-19.6,"t2":52.2,"v":94.6,"v2":114.2},
{"p":"L5","k":"title","t":14,"v":104,"tx":"D = 15 km"},
{"p":"L5","k":"txt","t":7.64,"v":82,"tx":"Pico"},{"p":"L5","k":"txt","t":7.64,"v":70.5,"tx":"inicial"},
{"p":"L5","k":"txt","t":95.8,"v":83.2,"tx":"Tiempo de inicio"},{"p":"L5","k":"txt","t":95.8,"v":71.4,"tx":"de la rampa"},
{"p":"L5","k":"arrow","t":2.73,"v":43.7,"t2":4.91,"v2":63.7,"ang":5.8},
{"p":"L5","k":"arrow","t":61.64,"v":21,"t2":93.09,"v2":64.6,"ang":33.9},
{"p":"L5","k":"curve","s":"solid","t":0,"v":0},{"p":"L5","k":"curve","s":"solid","t":0.91,"v":23.1},{"p":"L5","k":"curve","s":"solid","t":1.82,"v":38.3},{"p":"L5","k":"curve","s":"solid","t":2.55,"v":40.3},{"p":"L5","k":"curve","s":"solid","t":3.45,"v":35.8},{"p":"L5","k":"curve","s":"solid","t":4.91,"v":30.7},{"p":"L5","k":"curve","s":"solid","t":7.09,"v":28.1},{"p":"L5","k":"curve","s":"solid","t":9.45,"v":24.7},{"p":"L5","k":"curve","s":"solid","t":11.82,"v":22.2},{"p":"L5","k":"curve","s":"solid","t":14.91,"v":23.6},{"p":"L5","k":"curve","s":"solid","t":17.64,"v":23.1},{"p":"L5","k":"curve","s":"solid","t":21.27,"v":22},{"p":"L5","k":"curve","s":"solid","t":25.82,"v":22},{"p":"L5","k":"curve","s":"solid","t":28.18,"v":22.2},{"p":"L5","k":"curve","s":"solid","t":31.27,"v":20.5},{"p":"L5","k":"curve","s":"solid","t":35.82,"v":19.2},{"p":"L5","k":"curve","s":"solid","t":43.09,"v":18},{"p":"L5","k":"curve","s":"solid","t":54,"v":17.1},{"p":"L5","k":"curve","s":"solid","t":64.91,"v":17.1},{"p":"L5","k":"curve","s":"solid","t":75.82,"v":17.8},{"p":"L5","k":"curve","s":"solid","t":90.36,"v":19.3},{"p":"L5","k":"curve","s":"solid","t":108.55,"v":21.9},{"p":"L5","k":"curve","s":"solid","t":126.73,"v":25.1},{"p":"L5","k":"curve","s":"solid","t":144.91,"v":29.3},{"p":"L5","k":"curve","s":"solid","t":159.45,"v":33.7},{"p":"L5","k":"curve","s":"solid","t":171.82,"v":38},
{"p":"L5","k":"curve","s":"dot","t":1.27,"v":22.7},{"p":"L5","k":"curve","s":"dot","t":2.73,"v":18.8},{"p":"L5","k":"curve","s":"dot","t":4.55,"v":13.7},{"p":"L5","k":"curve","s":"dot","t":6.73,"v":10.3},{"p":"L5","k":"curve","s":"dot","t":10.36,"v":8.1},{"p":"L5","k":"curve","s":"dot","t":17.64,"v":7.1},{"p":"L5","k":"curve","s":"dot","t":30.36,"v":6.6},{"p":"L5","k":"curve","s":"dot","t":46.73,"v":6.6},{"p":"L5","k":"curve","s":"dot","t":63.09,"v":6.9},{"p":"L5","k":"curve","s":"dot","t":81.27,"v":7.8},{"p":"L5","k":"curve","s":"dot","t":99.45,"v":9},{"p":"L5","k":"curve","s":"dot","t":117.64,"v":10.3},{"p":"L5","k":"curve","s":"dot","t":135.82,"v":11.7},{"p":"L5","k":"curve","s":"dot","t":154,"v":13.4},{"p":"L5","k":"curve","s":"dot","t":170.36,"v":14.9},

{"p":"R5","k":"axis","t":-10.5,"t2":204,"v":0,"v2":0},
{"p":"R5","k":"bar","t":-50.35,"t2":-18.71,"v":0,"v2":0},
{"p":"R5","k":"bar","t":-50.35,"t2":-18.71,"v":100,"v2":100},
{"p":"R5","k":"down","t":-34.53,"v":100},
{"p":"R5","k":"up","t":-34.53,"v":0},
{"p":"R5","k":"tick","t":0,"v":0,"tx":"0"},{"p":"R5","k":"tick","t":50,"v":0,"tx":"50"},{"p":"R5","k":"tick","t":100,"v":0,"tx":"100"},{"p":"R5","k":"tick","t":150,"v":0,"tx":"150"},{"p":"R5","k":"tick","t":180,"v":0,"tx":"180"},
{"p":"R5","k":"tunit","t":195.1,"v":0,"tx":"t (μs)"},
{"p":"R5","k":"lab","t":-44.07,"v":63.6,"tx":"1 x 10"},{"p":"R5","k":"sup","t":-26.6,"v":79.5,"tx":"-7"},{"p":"R5","k":"lab","t":-11.89,"v":63.6,"tx":"T"},
{"p":"R5","k":"box","t":-24.9,"t2":46.9,"v":376.1,"v2":449.1},
{"p":"R5","k":"title","t":8.7,"v":413.3,"tx":"D = 15 km"},
{"p":"R5","k":"txt","t":15.5,"v":268.9,"tx":"Pico inicial"},{"p":"R5","k":"txt","t":129.1,"v":294.1,"tx":"Valor medio"},
{"p":"R5","k":"arrow","t":4.91,"v":161.6,"t2":9.09,"v2":242.4,"ang":10.7},
{"p":"R5","k":"arrow","t":124.9,"v":75.5,"t2":124.9,"v2":268.9,"ang":0},
{"p":"R5","k":"mean","t":-4.55,"v":64,"t2":146.36,"v2":64},
{"p":"R5","k":"curve","s":"solid","t":0,"v":0},{"p":"R5","k":"curve","s":"solid","t":1.45,"v":70.2},{"p":"R5","k":"curve","s":"solid","t":2.73,"v":129.8},{"p":"R5","k":"curve","s":"solid","t":3.64,"v":145},{"p":"R5","k":"curve","s":"solid","t":4.91,"v":126.5},{"p":"R5","k":"curve","s":"solid","t":6.73,"v":100},{"p":"R5","k":"curve","s":"solid","t":9.09,"v":84.8},{"p":"R5","k":"curve","s":"solid","t":11.82,"v":83.4},{"p":"R5","k":"curve","s":"solid","t":14.55,"v":88.7},{"p":"R5","k":"curve","s":"solid","t":17.27,"v":98},{"p":"R5","k":"curve","s":"solid","t":20.91,"v":104.6},{"p":"R5","k":"curve","s":"solid","t":26.36,"v":104.6},{"p":"R5","k":"curve","s":"solid","t":33.64,"v":101.3},{"p":"R5","k":"curve","s":"solid","t":40.91,"v":98},{"p":"R5","k":"curve","s":"solid","t":46.36,"v":92.1},{"p":"R5","k":"curve","s":"solid","t":50.91,"v":82.1},{"p":"R5","k":"curve","s":"solid","t":55.45,"v":73.5},{"p":"R5","k":"curve","s":"solid","t":62.73,"v":66.2},{"p":"R5","k":"curve","s":"solid","t":70,"v":55.6},{"p":"R5","k":"curve","s":"solid","t":77.27,"v":47},{"p":"R5","k":"curve","s":"solid","t":86.36,"v":43.7},{"p":"R5","k":"curve","s":"solid","t":93.64,"v":43.1},{"p":"R5","k":"curve","s":"solid","t":99.09,"v":37.1},{"p":"R5","k":"curve","s":"solid","t":108.18,"v":25.8},{"p":"R5","k":"curve","s":"solid","t":115.45,"v":17.2},{"p":"R5","k":"curve","s":"solid","t":122.73,"v":10.6},
{"p":"R5","k":"curve","s":"dot","t":2.36,"v":91.4},{"p":"R5","k":"curve","s":"dot","t":4.18,"v":66.9},{"p":"R5","k":"curve","s":"dot","t":6.73,"v":47},{"p":"R5","k":"curve","s":"dot","t":10,"v":38.4},{"p":"R5","k":"curve","s":"dot","t":13.64,"v":43.7},{"p":"R5","k":"curve","s":"dot","t":19.09,"v":58.3},{"p":"R5","k":"curve","s":"dot","t":23.64,"v":68.2},{"p":"R5","k":"curve","s":"dot","t":30,"v":63.6},{"p":"R5","k":"curve","s":"dot","t":37.27,"v":55.6},{"p":"R5","k":"curve","s":"dot","t":46.36,"v":47},{"p":"R5","k":"curve","s":"dot","t":57.27,"v":37.1},{"p":"R5","k":"curve","s":"dot","t":68.18,"v":30.5},{"p":"R5","k":"curve","s":"dot","t":82.73,"v":25.2},{"p":"R5","k":"curve","s":"dot","t":95.45,"v":20.5},{"p":"R5","k":"curve","s":"dot","t":108.18,"v":15.2},{"p":"R5","k":"curve","s":"dot","t":120.91,"v":9.3}
]},
"vconcat":[
{"hconcat":[
{"width":510,"height":262,"transform":[{"filter":"datum.p=='L1'"}],
 "encoding":{"x":{"field":"t","type":"quantitative","scale":{"domain":[-54.93,223.26],"nice":false,"zero":false},"axis":null},"y":{"field":"v","type":"quantitative","scale":{"domain":[-750.1,6268.9],"nice":false,"zero":false},"axis":null}},
 "layer":[
  {"transform":[{"filter":"datum.k=='box'"}],"mark":{"type":"rect","fill":"transparent","stroke":"#e0707a","strokeWidth":1.3,"strokeDash":[1.5,1.5]},"encoding":{"x2":{"field":"t2"},"y2":{"field":"v2"}}},
  {"transform":[{"filter":"datum.k=='axis'||datum.k=='bar'||datum.k=='mean'||datum.k=='arrow'"}],"mark":{"type":"rule"},"encoding":{"x2":{"field":"t2"},"y2":{"field":"v2"},"stroke":{"condition":[{"test":"datum.k=='mean'","value":"#e53935"},{"test":"datum.k=='arrow'","value":"#222222"}],"value":"#000000"},"strokeWidth":{"condition":[{"test":"datum.k=='axis'","value":4},{"test":"datum.k=='bar'","value":2}],"value":1.7},"strokeDash":{"condition":[{"test":"datum.k=='mean'","value":[9,3,2,3]},{"test":"datum.k=='arrow'","value":[2,2]}],"value":[1,0]}}},
  {"transform":[{"filter":"datum.k=='curve'"}],"mark":{"type":"line","color":"#2323be","strokeWidth":3.2,"strokeCap":"round","interpolate":"monotone"},"encoding":{"strokeDash":{"field":"s","type":"nominal","scale":{"domain":["solid","dot"],"range":[[1,0],[0.5,5.5]]},"legend":null}}},
  {"transform":[{"filter":"datum.k=='arrow'"}],"mark":{"type":"point","shape":"M-0.75,-1.1L0,0L0.75,-1.1","size":196,"filled":false,"color":"#222222","strokeWidth":1.6,"opacity":1},"encoding":{"angle":{"field":"ang","type":"quantitative","scale":null}}},
  {"transform":[{"filter":"datum.k=='tick'||datum.k=='down'||datum.k=='up'"}],"mark":{"type":"point","size":324,"filled":false,"color":"#000000","strokeWidth":2,"opacity":1},"encoding":{"shape":{"field":"k","type":"nominal","scale":{"domain":["tick","down","up"],"range":["M0,-0.55L0,0.15","M0,-2L0,0M-0.6,-0.9L0,0L0.6,-0.9","M0,2.4L0,0M-0.6,0.9L0,0L0.6,0.9"]},"legend":null}}},
  {"transform":[{"filter":"datum.k=='tick'"}],"mark":{"type":"text","dy":16.5},"encoding":{"text":{"field":"tx"}}},
  {"transform":[{"filter":"datum.k=='tunit'"}],"mark":{"type":"text","dy":-16,"align":"left","fontSize":21},"encoding":{"text":{"field":"tx"}}},
  {"transform":[{"filter":"datum.k=='txt'||datum.k=='lab'||datum.k=='sup'"}],"mark":{"type":"text"},"encoding":{"text":{"field":"tx"},"size":{"condition":[{"test":"datum.k=='sup'","value":13},{"test":"datum.k=='lab'","value":20.5}],"value":19.5}}},
  {"transform":[{"filter":"datum.k=='ital'"}],"mark":{"type":"text","fontStyle":"italic"},"encoding":{"text":{"field":"tx"}}},
  {"transform":[{"filter":"datum.k=='title'"}],"mark":{"type":"text","fontWeight":"bold","fontSize":21,"color":"#c8141c"},"encoding":{"text":{"field":"tx"}}}
 ]},
{"width":521,"height":262,"transform":[{"filter":"datum.p=='R1'"}],
 "encoding":{"x":{"field":"t","type":"quantitative","scale":{"domain":[-59.62,224.57],"nice":false,"zero":false},"axis":null},"y":{"field":"v","type":"quantitative","scale":{"domain":[-2675.1,22356.4],"nice":false,"zero":false},"axis":null}},
 "layer":[
  {"transform":[{"filter":"datum.k=='box'"}],"mark":{"type":"rect","fill":"transparent","stroke":"#e0707a","strokeWidth":1.3,"strokeDash":[1.5,1.5]},"encoding":{"x2":{"field":"t2"},"y2":{"field":"v2"}}},
  {"transform":[{"filter":"datum.k=='axis'||datum.k=='bar'||datum.k=='mean'||datum.k=='arrow'"}],"mark":{"type":"rule"},"encoding":{"x2":{"field":"t2"},"y2":{"field":"v2"},"stroke":{"condition":[{"test":"datum.k=='mean'","value":"#e53935"},{"test":"datum.k=='arrow'","value":"#222222"}],"value":"#000000"},"strokeWidth":{"condition":[{"test":"datum.k=='axis'","value":4},{"test":"datum.k=='bar'","value":2}],"value":1.7},"strokeDash":{"condition":[{"test":"datum.k=='mean'","value":[9,3,2,3]},{"test":"datum.k=='arrow'","value":[2,2]}],"value":[1,0]}}},
  {"transform":[{"filter":"datum.k=='curve'"}],"mark":{"type":"line","color":"#3a9e32","strokeWidth":3.2,"strokeCap":"round","interpolate":"monotone"},"encoding":{"strokeDash":{"field":"s","type":"nominal","scale":{"domain":["solid","dot"],"range":[[1,0],[0.5,5.5]]},"legend":null}}},
  {"transform":[{"filter":"datum.k=='arrow'"}],"mark":{"type":"point","shape":"M-0.75,-1.1L0,0L0.75,-1.1","size":196,"filled":false,"color":"#222222","strokeWidth":1.6,"opacity":1},"encoding":{"angle":{"field":"ang","type":"quantitative","scale":null}}},
  {"transform":[{"filter":"datum.k=='tick'||datum.k=='down'||datum.k=='up'"}],"mark":{"type":"point","size":324,"filled":false,"color":"#000000","strokeWidth":2,"opacity":1},"encoding":{"shape":{"field":"k","type":"nominal","scale":{"domain":["tick","down","up"],"range":["M0,-0.55L0,0.15","M0,-2L0,0M-0.6,-0.9L0,0L0.6,-0.9","M0,2.4L0,0M-0.6,0.9L0,0L0.6,0.9"]},"legend":null}}},
  {"transform":[{"filter":"datum.k=='tick'"}],"mark":{"type":"text","dy":16.5},"encoding":{"text":{"field":"tx"}}},
  {"transform":[{"filter":"datum.k=='tunit'"}],"mark":{"type":"text","dy":-16,"align":"left","fontSize":21},"encoding":{"text":{"field":"tx"}}},
  {"transform":[{"filter":"datum.k=='txt'||datum.k=='lab'||datum.k=='sup'"}],"mark":{"type":"text"},"encoding":{"text":{"field":"tx"},"size":{"condition":[{"test":"datum.k=='sup'","value":13},{"test":"datum.k=='lab'","value":20.5}],"value":19.5}}},
  {"transform":[{"filter":"datum.k=='ital'"}],"mark":{"type":"text","fontStyle":"italic"},"encoding":{"text":{"field":"tx"}}},
  {"transform":[{"filter":"datum.k=='title'"}],"mark":{"type":"text","fontWeight":"bold","fontSize":21,"color":"#c8141c"},"encoding":{"text":{"field":"tx"}}}
 ]}
],"spacing":110},
{"hconcat":[
{"width":510,"height":262,"transform":[{"filter":"datum.p=='L2'"}],
 "encoding":{"x":{"field":"t","type":"quantitative","scale":{"domain":[-55.47,222.71],"nice":false,"zero":false},"axis":null},"y":{"field":"v","type":"quantitative","scale":{"domain":[-225,1880.4],"nice":false,"zero":false},"axis":null}},
 "layer":[
  {"transform":[{"filter":"datum.k=='box'"}],"mark":{"type":"rect","fill":"transparent","stroke":"#e0707a","strokeWidth":1.3,"strokeDash":[1.5,1.5]},"encoding":{"x2":{"field":"t2"},"y2":{"field":"v2"}}},
  {"transform":[{"filter":"datum.k=='axis'||datum.k=='bar'||datum.k=='mean'||datum.k=='arrow'"}],"mark":{"type":"rule"},"encoding":{"x2":{"field":"t2"},"y2":{"field":"v2"},"stroke":{"condition":[{"test":"datum.k=='mean'","value":"#e53935"},{"test":"datum.k=='arrow'","value":"#222222"}],"value":"#000000"},"strokeWidth":{"condition":[{"test":"datum.k=='axis'","value":4},{"test":"datum.k=='bar'","value":2}],"value":1.7},"strokeDash":{"condition":[{"test":"datum.k=='mean'","value":[9,3,2,3]},{"test":"datum.k=='arrow'","value":[2,2]}],"value":[1,0]}}},
  {"transform":[{"filter":"datum.k=='curve'"}],"mark":{"type":"line","color":"#2323be","strokeWidth":3.2,"strokeCap":"round","interpolate":"monotone"},"encoding":{"strokeDash":{"field":"s","type":"nominal","scale":{"domain":["solid","dot"],"range":[[1,0],[0.5,5.5]]},"legend":null}}},
  {"transform":[{"filter":"datum.k=='arrow'"}],"mark":{"type":"point","shape":"M-0.75,-1.1L0,0L0.75,-1.1","size":196,"filled":false,"color":"#222222","strokeWidth":1.6,"opacity":1},"encoding":{"angle":{"field":"ang","type":"quantitative","scale":null}}},
  {"transform":[{"filter":"datum.k=='tick'||datum.k=='down'||datum.k=='up'"}],"mark":{"type":"point","size":324,"filled":false,"color":"#000000","strokeWidth":2,"opacity":1},"encoding":{"shape":{"field":"k","type":"nominal","scale":{"domain":["tick","down","up"],"range":["M0,-0.55L0,0.15","M0,-2L0,0M-0.6,-0.9L0,0L0.6,-0.9","M0,2.4L0,0M-0.6,0.9L0,0L0.6,0.9"]},"legend":null}}},
  {"transform":[{"filter":"datum.k=='tick'"}],"mark":{"type":"text","dy":16.5},"encoding":{"text":{"field":"tx"}}},
  {"transform":[{"filter":"datum.k=='tunit'"}],"mark":{"type":"text","dy":-16,"align":"left","fontSize":21},"encoding":{"text":{"field":"tx"}}},
  {"transform":[{"filter":"datum.k=='txt'||datum.k=='lab'||datum.k=='sup'"}],"mark":{"type":"text"},"encoding":{"text":{"field":"tx"},"size":{"condition":[{"test":"datum.k=='sup'","value":13},{"test":"datum.k=='lab'","value":20.5}],"value":19.5}}},
  {"transform":[{"filter":"datum.k=='ital'"}],"mark":{"type":"text","fontStyle":"italic"},"encoding":{"text":{"field":"tx"}}},
  {"transform":[{"filter":"datum.k=='title'"}],"mark":{"type":"text","fontWeight":"bold","fontSize":21,"color":"#c8141c"},"encoding":{"text":{"field":"tx"}}}
 ]},
{"width":521,"height":262,"transform":[{"filter":"datum.p=='R2'"}],
 "encoding":{"x":{"field":"t","type":"quantitative","scale":{"domain":[-60,224.18],"nice":false,"zero":false},"axis":null},"y":{"field":"v","type":"quantitative","scale":{"domain":[-705.9,5899.1],"nice":false,"zero":false},"axis":null}},
 "layer":[
  {"transform":[{"filter":"datum.k=='box'"}],"mark":{"type":"rect","fill":"transparent","stroke":"#e0707a","strokeWidth":1.3,"strokeDash":[1.5,1.5]},"encoding":{"x2":{"field":"t2"},"y2":{"field":"v2"}}},
  {"transform":[{"filter":"datum.k=='axis'||datum.k=='bar'||datum.k=='mean'||datum.k=='arrow'"}],"mark":{"type":"rule"},"encoding":{"x2":{"field":"t2"},"y2":{"field":"v2"},"stroke":{"condition":[{"test":"datum.k=='mean'","value":"#e53935"},{"test":"datum.k=='arrow'","value":"#222222"}],"value":"#000000"},"strokeWidth":{"condition":[{"test":"datum.k=='axis'","value":4},{"test":"datum.k=='bar'","value":2}],"value":1.7},"strokeDash":{"condition":[{"test":"datum.k=='mean'","value":[9,3,2,3]},{"test":"datum.k=='arrow'","value":[2,2]}],"value":[1,0]}}},
  {"transform":[{"filter":"datum.k=='curve'"}],"mark":{"type":"line","color":"#3a9e32","strokeWidth":3.2,"strokeCap":"round","interpolate":"monotone"},"encoding":{"strokeDash":{"field":"s","type":"nominal","scale":{"domain":["solid","dot"],"range":[[1,0],[0.5,5.5]]},"legend":null}}},
  {"transform":[{"filter":"datum.k=='arrow'"}],"mark":{"type":"point","shape":"M-0.75,-1.1L0,0L0.75,-1.1","size":196,"filled":false,"color":"#222222","strokeWidth":1.6,"opacity":1},"encoding":{"angle":{"field":"ang","type":"quantitative","scale":null}}},
  {"transform":[{"filter":"datum.k=='tick'||datum.k=='down'||datum.k=='up'"}],"mark":{"type":"point","size":324,"filled":false,"color":"#000000","strokeWidth":2,"opacity":1},"encoding":{"shape":{"field":"k","type":"nominal","scale":{"domain":["tick","down","up"],"range":["M0,-0.55L0,0.15","M0,-2L0,0M-0.6,-0.9L0,0L0.6,-0.9","M0,2.4L0,0M-0.6,0.9L0,0L0.6,0.9"]},"legend":null}}},
  {"transform":[{"filter":"datum.k=='tick'"}],"mark":{"type":"text","dy":16.5},"encoding":{"text":{"field":"tx"}}},
  {"transform":[{"filter":"datum.k=='tunit'"}],"mark":{"type":"text","dy":-16,"align":"left","fontSize":21},"encoding":{"text":{"field":"tx"}}},
  {"transform":[{"filter":"datum.k=='txt'||datum.k=='lab'||datum.k=='sup'"}],"mark":{"type":"text"},"encoding":{"text":{"field":"tx"},"size":{"condition":[{"test":"datum.k=='sup'","value":13},{"test":"datum.k=='lab'","value":20.5}],"value":19.5}}},
  {"transform":[{"filter":"datum.k=='ital'"}],"mark":{"type":"text","fontStyle":"italic"},"encoding":{"text":{"field":"tx"}}},
  {"transform":[{"filter":"datum.k=='title'"}],"mark":{"type":"text","fontWeight":"bold","fontSize":21,"color":"#c8141c"},"encoding":{"text":{"field":"tx"}}}
 ]}
],"spacing":110},
{"hconcat":[
{"width":510,"height":262,"transform":[{"filter":"datum.p=='L3'"}],
 "encoding":{"x":{"field":"t","type":"quantitative","scale":{"domain":[-57.27,220.91],"nice":false,"zero":false},"axis":null},"y":{"field":"v","type":"quantitative","scale":{"domain":[-79.05,669.5],"nice":false,"zero":false},"axis":null}},
 "layer":[
  {"transform":[{"filter":"datum.k=='box'"}],"mark":{"type":"rect","fill":"transparent","stroke":"#e0707a","strokeWidth":1.3,"strokeDash":[1.5,1.5]},"encoding":{"x2":{"field":"t2"},"y2":{"field":"v2"}}},
  {"transform":[{"filter":"datum.k=='axis'||datum.k=='bar'||datum.k=='mean'||datum.k=='arrow'"}],"mark":{"type":"rule"},"encoding":{"x2":{"field":"t2"},"y2":{"field":"v2"},"stroke":{"condition":[{"test":"datum.k=='mean'","value":"#e53935"},{"test":"datum.k=='arrow'","value":"#222222"}],"value":"#000000"},"strokeWidth":{"condition":[{"test":"datum.k=='axis'","value":4},{"test":"datum.k=='bar'","value":2}],"value":1.7},"strokeDash":{"condition":[{"test":"datum.k=='mean'","value":[9,3,2,3]},{"test":"datum.k=='arrow'","value":[2,2]}],"value":[1,0]}}},
  {"transform":[{"filter":"datum.k=='curve'"}],"mark":{"type":"line","color":"#2323be","strokeWidth":3.2,"strokeCap":"round","interpolate":"monotone"},"encoding":{"strokeDash":{"field":"s","type":"nominal","scale":{"domain":["solid","dot"],"range":[[1,0],[0.5,5.5]]},"legend":null}}},
  {"transform":[{"filter":"datum.k=='arrow'"}],"mark":{"type":"point","shape":"M-0.75,-1.1L0,0L0.75,-1.1","size":196,"filled":false,"color":"#222222","strokeWidth":1.6,"opacity":1},"encoding":{"angle":{"field":"ang","type":"quantitative","scale":null}}},
  {"transform":[{"filter":"datum.k=='tick'||datum.k=='down'||datum.k=='up'"}],"mark":{"type":"point","size":324,"filled":false,"color":"#000000","strokeWidth":2,"opacity":1},"encoding":{"shape":{"field":"k","type":"nominal","scale":{"domain":["tick","down","up"],"range":["M0,-0.55L0,0.15","M0,-2L0,0M-0.6,-0.9L0,0L0.6,-0.9","M0,2.4L0,0M-0.6,0.9L0,0L0.6,0.9"]},"legend":null}}},
  {"transform":[{"filter":"datum.k=='tick'"}],"mark":{"type":"text","dy":16.5},"encoding":{"text":{"field":"tx"}}},
  {"transform":[{"filter":"datum.k=='tunit'"}],"mark":{"type":"text","dy":-16,"align":"left","fontSize":21},"encoding":{"text":{"field":"tx"}}},
  {"transform":[{"filter":"datum.k=='txt'||datum.k=='lab'||datum.k=='sup'"}],"mark":{"type":"text"},"encoding":{"text":{"field":"tx"},"size":{"condition":[{"test":"datum.k=='sup'","value":13},{"test":"datum.k=='lab'","value":20.5}],"value":19.5}}},
  {"transform":[{"filter":"datum.k=='ital'"}],"mark":{"type":"text","fontStyle":"italic"},"encoding":{"text":{"field":"tx"}}},
  {"transform":[{"filter":"datum.k=='title'"}],"mark":{"type":"text","fontWeight":"bold","fontSize":21,"color":"#c8141c"},"encoding":{"text":{"field":"tx"}}}
 ]},
{"width":521,"height":262,"transform":[{"filter":"datum.p=='R3'"}],
 "encoding":{"x":{"field":"t","type":"quantitative","scale":{"domain":[-59.62,224.57],"nice":false,"zero":false},"axis":null},"y":{"field":"v","type":"quantitative","scale":{"domain":[-254.9,2156.3],"nice":false,"zero":false},"axis":null}},
 "layer":[
  {"transform":[{"filter":"datum.k=='box'"}],"mark":{"type":"rect","fill":"transparent","stroke":"#e0707a","strokeWidth":1.3,"strokeDash":[1.5,1.5]},"encoding":{"x2":{"field":"t2"},"y2":{"field":"v2"}}},
  {"transform":[{"filter":"datum.k=='axis'||datum.k=='bar'||datum.k=='mean'||datum.k=='arrow'"}],"mark":{"type":"rule"},"encoding":{"x2":{"field":"t2"},"y2":{"field":"v2"},"stroke":{"condition":[{"test":"datum.k=='mean'","value":"#e53935"},{"test":"datum.k=='arrow'","value":"#222222"}],"value":"#000000"},"strokeWidth":{"condition":[{"test":"datum.k=='axis'","value":4},{"test":"datum.k=='bar'","value":2}],"value":1.7},"strokeDash":{"condition":[{"test":"datum.k=='mean'","value":[9,3,2,3]},{"test":"datum.k=='arrow'","value":[2,2]}],"value":[1,0]}}},
  {"transform":[{"filter":"datum.k=='curve'"}],"mark":{"type":"line","color":"#3a9e32","strokeWidth":3.2,"strokeCap":"round","interpolate":"monotone"},"encoding":{"strokeDash":{"field":"s","type":"nominal","scale":{"domain":["solid","dot"],"range":[[1,0],[0.5,5.5]]},"legend":null}}},
  {"transform":[{"filter":"datum.k=='arrow'"}],"mark":{"type":"point","shape":"M-0.75,-1.1L0,0L0.75,-1.1","size":196,"filled":false,"color":"#222222","strokeWidth":1.6,"opacity":1},"encoding":{"angle":{"field":"ang","type":"quantitative","scale":null}}},
  {"transform":[{"filter":"datum.k=='tick'||datum.k=='down'||datum.k=='up'"}],"mark":{"type":"point","size":324,"filled":false,"color":"#000000","strokeWidth":2,"opacity":1},"encoding":{"shape":{"field":"k","type":"nominal","scale":{"domain":["tick","down","up"],"range":["M0,-0.55L0,0.15","M0,-2L0,0M-0.6,-0.9L0,0L0.6,-0.9","M0,2.4L0,0M-0.6,0.9L0,0L0.6,0.9"]},"legend":null}}},
  {"transform":[{"filter":"datum.k=='tick'"}],"mark":{"type":"text","dy":16.5},"encoding":{"text":{"field":"tx"}}},
  {"transform":[{"filter":"datum.k=='tunit'"}],"mark":{"type":"text","dy":-16,"align":"left","fontSize":21},"encoding":{"text":{"field":"tx"}}},
  {"transform":[{"filter":"datum.k=='txt'||datum.k=='lab'||datum.k=='sup'"}],"mark":{"type":"text"},"encoding":{"text":{"field":"tx"},"size":{"condition":[{"test":"datum.k=='sup'","value":13},{"test":"datum.k=='lab'","value":20.5}],"value":19.5}}},
  {"transform":[{"filter":"datum.k=='ital'"}],"mark":{"type":"text","fontStyle":"italic"},"encoding":{"text":{"field":"tx"}}},
  {"transform":[{"filter":"datum.k=='title'"}],"mark":{"type":"text","fontWeight":"bold","fontSize":21,"color":"#c8141c"},"encoding":{"text":{"field":"tx"}}}
 ]}
],"spacing":110},
{"hconcat":[
{"width":510,"height":262,"transform":[{"filter":"datum.p=='L4'"}],
 "encoding":{"x":{"field":"t","type":"quantitative","scale":{"domain":[-54.18,224.0],"nice":false,"zero":false},"axis":null},"y":{"field":"v","type":"quantitative","scale":{"domain":[-27.66,251.06],"nice":false,"zero":false},"axis":null}},
 "layer":[
  {"transform":[{"filter":"datum.k=='box'"}],"mark":{"type":"rect","fill":"transparent","stroke":"#e0707a","strokeWidth":1.3,"strokeDash":[1.5,1.5]},"encoding":{"x2":{"field":"t2"},"y2":{"field":"v2"}}},
  {"transform":[{"filter":"datum.k=='axis'||datum.k=='bar'||datum.k=='mean'||datum.k=='arrow'"}],"mark":{"type":"rule"},"encoding":{"x2":{"field":"t2"},"y2":{"field":"v2"},"stroke":{"condition":[{"test":"datum.k=='mean'","value":"#e53935"},{"test":"datum.k=='arrow'","value":"#222222"}],"value":"#000000"},"strokeWidth":{"condition":[{"test":"datum.k=='axis'","value":4},{"test":"datum.k=='bar'","value":2}],"value":1.7},"strokeDash":{"condition":[{"test":"datum.k=='mean'","value":[9,3,2,3]},{"test":"datum.k=='arrow'","value":[2,2]}],"value":[1,0]}}},
  {"transform":[{"filter":"datum.k=='curve'"}],"mark":{"type":"line","color":"#2323be","strokeWidth":3.2,"strokeCap":"round","interpolate":"monotone"},"encoding":{"strokeDash":{"field":"s","type":"nominal","scale":{"domain":["solid","dot"],"range":[[1,0],[0.5,5.5]]},"legend":null}}},
  {"transform":[{"filter":"datum.k=='arrow'"}],"mark":{"type":"point","shape":"M-0.75,-1.1L0,0L0.75,-1.1","size":196,"filled":false,"color":"#222222","strokeWidth":1.6,"opacity":1},"encoding":{"angle":{"field":"ang","type":"quantitative","scale":null}}},
  {"transform":[{"filter":"datum.k=='tick'||datum.k=='down'||datum.k=='up'"}],"mark":{"type":"point","size":324,"filled":false,"color":"#000000","strokeWidth":2,"opacity":1},"encoding":{"shape":{"field":"k","type":"nominal","scale":{"domain":["tick","down","up"],"range":["M0,-0.55L0,0.15","M0,-2L0,0M-0.6,-0.9L0,0L0.6,-0.9","M0,2.4L0,0M-0.6,0.9L0,0L0.6,0.9"]},"legend":null}}},
  {"transform":[{"filter":"datum.k=='tick'"}],"mark":{"type":"text","dy":16.5},"encoding":{"text":{"field":"tx"}}},
  {"transform":[{"filter":"datum.k=='tunit'"}],"mark":{"type":"text","dy":-16,"align":"left","fontSize":21},"encoding":{"text":{"field":"tx"}}},
  {"transform":[{"filter":"datum.k=='txt'||datum.k=='lab'||datum.k=='sup'"}],"mark":{"type":"text"},"encoding":{"text":{"field":"tx"},"size":{"condition":[{"test":"datum.k=='sup'","value":13},{"test":"datum.k=='lab'","value":20.5}],"value":19.5}}},
  {"transform":[{"filter":"datum.k=='ital'"}],"mark":{"type":"text","fontStyle":"italic"},"encoding":{"text":{"field":"tx"}}},
  {"transform":[{"filter":"datum.k=='title'"}],"mark":{"type":"text","fontWeight":"bold","fontSize":21,"color":"#c8141c"},"encoding":{"text":{"field":"tx"}}}
 ]},
{"width":521,"height":262,"transform":[{"filter":"datum.p=='R4'"}],
 "encoding":{"x":{"field":"t","type":"quantitative","scale":{"domain":[-58.53,225.66],"nice":false,"zero":false},"axis":null},"y":{"field":"v","type":"quantitative","scale":{"domain":[-92.9,831.7],"nice":false,"zero":false},"axis":null}},
 "layer":[
  {"transform":[{"filter":"datum.k=='box'"}],"mark":{"type":"rect","fill":"transparent","stroke":"#e0707a","strokeWidth":1.3,"strokeDash":[1.5,1.5]},"encoding":{"x2":{"field":"t2"},"y2":{"field":"v2"}}},
  {"transform":[{"filter":"datum.k=='axis'||datum.k=='bar'||datum.k=='mean'||datum.k=='arrow'"}],"mark":{"type":"rule"},"encoding":{"x2":{"field":"t2"},"y2":{"field":"v2"},"stroke":{"condition":[{"test":"datum.k=='mean'","value":"#e53935"},{"test":"datum.k=='arrow'","value":"#222222"}],"value":"#000000"},"strokeWidth":{"condition":[{"test":"datum.k=='axis'","value":4},{"test":"datum.k=='bar'","value":2}],"value":1.7},"strokeDash":{"condition":[{"test":"datum.k=='mean'","value":[9,3,2,3]},{"test":"datum.k=='arrow'","value":[2,2]}],"value":[1,0]}}},
  {"transform":[{"filter":"datum.k=='curve'"}],"mark":{"type":"line","color":"#3a9e32","strokeWidth":3.2,"strokeCap":"round","interpolate":"monotone"},"encoding":{"strokeDash":{"field":"s","type":"nominal","scale":{"domain":["solid","dot"],"range":[[1,0],[0.5,5.5]]},"legend":null}}},
  {"transform":[{"filter":"datum.k=='arrow'"}],"mark":{"type":"point","shape":"M-0.75,-1.1L0,0L0.75,-1.1","size":196,"filled":false,"color":"#222222","strokeWidth":1.6,"opacity":1},"encoding":{"angle":{"field":"ang","type":"quantitative","scale":null}}},
  {"transform":[{"filter":"datum.k=='tick'||datum.k=='down'||datum.k=='up'"}],"mark":{"type":"point","size":324,"filled":false,"color":"#000000","strokeWidth":2,"opacity":1},"encoding":{"shape":{"field":"k","type":"nominal","scale":{"domain":["tick","down","up"],"range":["M0,-0.55L0,0.15","M0,-2L0,0M-0.6,-0.9L0,0L0.6,-0.9","M0,2.4L0,0M-0.6,0.9L0,0L0.6,0.9"]},"legend":null}}},
  {"transform":[{"filter":"datum.k=='tick'"}],"mark":{"type":"text","dy":16.5},"encoding":{"text":{"field":"tx"}}},
  {"transform":[{"filter":"datum.k=='tunit'"}],"mark":{"type":"text","dy":-16,"align":"left","fontSize":21},"encoding":{"text":{"field":"tx"}}},
  {"transform":[{"filter":"datum.k=='txt'||datum.k=='lab'||datum.k=='sup'"}],"mark":{"type":"text"},"encoding":{"text":{"field":"tx"},"size":{"condition":[{"test":"datum.k=='sup'","value":13},{"test":"datum.k=='lab'","value":20.5}],"value":19.5}}},
  {"transform":[{"filter":"datum.k=='ital'"}],"mark":{"type":"text","fontStyle":"italic"},"encoding":{"text":{"field":"tx"}}},
  {"transform":[{"filter":"datum.k=='title'"}],"mark":{"type":"text","fontWeight":"bold","fontSize":21,"color":"#c8141c"},"encoding":{"text":{"field":"tx"}}}
 ]}
],"spacing":110},
{"hconcat":[
{"width":510,"height":262,"transform":[{"filter":"datum.p=='L5'"}],
 "encoding":{"x":{"field":"t","type":"quantitative","scale":{"domain":[-55.09,223.09],"nice":false,"zero":false},"axis":null},"y":{"field":"v","type":"quantitative","scale":{"domain":[-13.56,119.67],"nice":false,"zero":false},"axis":null}},
 "layer":[
  {"transform":[{"filter":"datum.k=='box'"}],"mark":{"type":"rect","fill":"transparent","stroke":"#e0707a","strokeWidth":1.3,"strokeDash":[1.5,1.5]},"encoding":{"x2":{"field":"t2"},"y2":{"field":"v2"}}},
  {"transform":[{"filter":"datum.k=='axis'||datum.k=='bar'||datum.k=='mean'||datum.k=='arrow'"}],"mark":{"type":"rule"},"encoding":{"x2":{"field":"t2"},"y2":{"field":"v2"},"stroke":{"condition":[{"test":"datum.k=='mean'","value":"#e53935"},{"test":"datum.k=='arrow'","value":"#222222"}],"value":"#000000"},"strokeWidth":{"condition":[{"test":"datum.k=='axis'","value":4},{"test":"datum.k=='bar'","value":2}],"value":1.7},"strokeDash":{"condition":[{"test":"datum.k=='mean'","value":[9,3,2,3]},{"test":"datum.k=='arrow'","value":[2,2]}],"value":[1,0]}}},
  {"transform":[{"filter":"datum.k=='curve'"}],"mark":{"type":"line","color":"#2323be","strokeWidth":3.2,"strokeCap":"round","interpolate":"monotone"},"encoding":{"strokeDash":{"field":"s","type":"nominal","scale":{"domain":["solid","dot"],"range":[[1,0],[0.5,5.5]]},"legend":null}}},
  {"transform":[{"filter":"datum.k=='arrow'"}],"mark":{"type":"point","shape":"M-0.75,-1.1L0,0L0.75,-1.1","size":196,"filled":false,"color":"#222222","strokeWidth":1.6,"opacity":1},"encoding":{"angle":{"field":"ang","type":"quantitative","scale":null}}},
  {"transform":[{"filter":"datum.k=='tick'||datum.k=='down'||datum.k=='up'"}],"mark":{"type":"point","size":324,"filled":false,"color":"#000000","strokeWidth":2,"opacity":1},"encoding":{"shape":{"field":"k","type":"nominal","scale":{"domain":["tick","down","up"],"range":["M0,-0.55L0,0.15","M0,-2L0,0M-0.6,-0.9L0,0L0.6,-0.9","M0,2.4L0,0M-0.6,0.9L0,0L0.6,0.9"]},"legend":null}}},
  {"transform":[{"filter":"datum.k=='tick'"}],"mark":{"type":"text","dy":16.5},"encoding":{"text":{"field":"tx"}}},
  {"transform":[{"filter":"datum.k=='tunit'"}],"mark":{"type":"text","dy":-16,"align":"left","fontSize":21},"encoding":{"text":{"field":"tx"}}},
  {"transform":[{"filter":"datum.k=='txt'||datum.k=='lab'||datum.k=='sup'"}],"mark":{"type":"text"},"encoding":{"text":{"field":"tx"},"size":{"condition":[{"test":"datum.k=='sup'","value":13},{"test":"datum.k=='lab'","value":20.5}],"value":19.5}}},
  {"transform":[{"filter":"datum.k=='ital'"}],"mark":{"type":"text","fontStyle":"italic"},"encoding":{"text":{"field":"tx"}}},
  {"transform":[{"filter":"datum.k=='title'"}],"mark":{"type":"text","fontWeight":"bold","fontSize":21,"color":"#c8141c"},"encoding":{"text":{"field":"tx"}}}
 ]},
{"width":521,"height":262,"transform":[{"filter":"datum.p=='R5'"}],
 "encoding":{"x":{"field":"t","type":"quantitative","scale":{"domain":[-59.07,225.11],"nice":false,"zero":false},"axis":null},"y":{"field":"v","type":"quantitative","scale":{"domain":[-53.0,467.6],"nice":false,"zero":false},"axis":null}},
 "layer":[
  {"transform":[{"filter":"datum.k=='box'"}],"mark":{"type":"rect","fill":"transparent","stroke":"#e0707a","strokeWidth":1.3,"strokeDash":[1.5,1.5]},"encoding":{"x2":{"field":"t2"},"y2":{"field":"v2"}}},
  {"transform":[{"filter":"datum.k=='axis'||datum.k=='bar'||datum.k=='mean'||datum.k=='arrow'"}],"mark":{"type":"rule"},"encoding":{"x2":{"field":"t2"},"y2":{"field":"v2"},"stroke":{"condition":[{"test":"datum.k=='mean'","value":"#e53935"},{"test":"datum.k=='arrow'","value":"#222222"}],"value":"#000000"},"strokeWidth":{"condition":[{"test":"datum.k=='axis'","value":4},{"test":"datum.k=='bar'","value":2}],"value":1.7},"strokeDash":{"condition":[{"test":"datum.k=='mean'","value":[9,3,2,3]},{"test":"datum.k=='arrow'","value":[2,2]}],"value":[1,0]}}},
  {"transform":[{"filter":"datum.k=='curve'"}],"mark":{"type":"line","color":"#3a9e32","strokeWidth":3.2,"strokeCap":"round","interpolate":"monotone"},"encoding":{"strokeDash":{"field":"s","type":"nominal","scale":{"domain":["solid","dot"],"range":[[1,0],[0.5,5.5]]},"legend":null}}},
  {"transform":[{"filter":"datum.k=='arrow'"}],"mark":{"type":"point","shape":"M-0.75,-1.1L0,0L0.75,-1.1","size":196,"filled":false,"color":"#222222","strokeWidth":1.6,"opacity":1},"encoding":{"angle":{"field":"ang","type":"quantitative","scale":null}}},
  {"transform":[{"filter":"datum.k=='tick'||datum.k=='down'||datum.k=='up'"}],"mark":{"type":"point","size":324,"filled":false,"color":"#000000","strokeWidth":2,"opacity":1},"encoding":{"shape":{"field":"k","type":"nominal","scale":{"domain":["tick","down","up"],"range":["M0,-0.55L0,0.15","M0,-2L0,0M-0.6,-0.9L0,0L0.6,-0.9","M0,2.4L0,0M-0.6,0.9L0,0L0.6,0.9"]},"legend":null}}},
  {"transform":[{"filter":"datum.k=='tick'"}],"mark":{"type":"text","dy":16.5},"encoding":{"text":{"field":"tx"}}},
  {"transform":[{"filter":"datum.k=='tunit'"}],"mark":{"type":"text","dy":-16,"align":"left","fontSize":21},"encoding":{"text":{"field":"tx"}}},
  {"transform":[{"filter":"datum.k=='txt'||datum.k=='lab'||datum.k=='sup'"}],"mark":{"type":"text"},"encoding":{"text":{"field":"tx"},"size":{"condition":[{"test":"datum.k=='sup'","value":13},{"test":"datum.k=='lab'","value":20.5}],"value":19.5}}},
  {"transform":[{"filter":"datum.k=='ital'"}],"mark":{"type":"text","fontStyle":"italic"},"encoding":{"text":{"field":"tx"}}},
  {"transform":[{"filter":"datum.k=='title'"}],"mark":{"type":"text","fontWeight":"bold","fontSize":21,"color":"#c8141c"},"encoding":{"text":{"field":"tx"}}}
 ]}
],"spacing":110}
]}
